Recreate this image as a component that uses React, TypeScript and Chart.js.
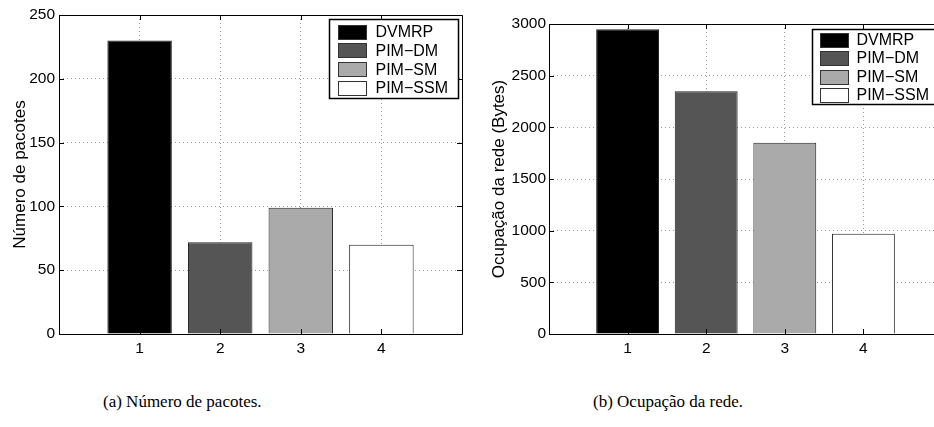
import React, { useEffect, useRef } from "react";
import { Chart, registerables } from "chart.js";

Chart.register(...registerables);

const positions = [1, 2, 3, 4];
const protocols = ["DVMRP", "PIM\u2212DM", "PIM\u2212SM", "PIM\u2212SSM"];
const barColors = ["#000000", "#555555", "#aaaaaa", "#ffffff"];
const packetCounts = [230, 72, 99, 70];
const networkBytes = [2950, 2350, 1850, 970];
const captionA = "(a) Número de pacotes.";
const captionB = "(b) Ocupação da rede.";
const titleA = "Número de pacotes";
const titleB = "Ocupação da rede (Bytes)";

const SANS = "'Liberation Sans', Arial, sans-serif";

const framePlugin = {
  id: "matlabFrame",
  afterDatasetsDraw(chart: any, _args: any, opts: any) {
    const { ctx, chartArea } = chart;
    const { left, right, top, bottom } = chartArea;
    ctx.save();
    ctx.strokeStyle = "#000";
    ctx.lineWidth = 1;
    ctx.beginPath();
    ctx.rect(Math.round(left) + 0.5, Math.round(top) + 0.5, Math.round(right - left), Math.round(bottom - top));
    ctx.stroke();
    const ys = chart.scales.y;
    const xs = chart.scales.x;
    const tl = 5;
    ctx.beginPath();
    ys.ticks.forEach((t: any) => {
      const py = Math.round(ys.getPixelForValue(t.value)) + 0.5;
      ctx.moveTo(left, py);
      ctx.lineTo(left + tl, py);
      ctx.moveTo(right, py);
      ctx.lineTo(right - tl, py);
    });
    xs.ticks.forEach((t: any) => {
      if (t.value < 1 || t.value > 4) return;
      const px = Math.round(xs.getPixelForValue(t.value)) + 0.5;
      ctx.moveTo(px, bottom);
      ctx.lineTo(px, bottom - tl);
      ctx.moveTo(px, top);
      ctx.lineTo(px, top + tl);
    });
    ctx.stroke();

    // legend box
    const bx = Math.round(right - opts.fromRight) + 0.5;
    const by = Math.round(top + opts.fromTop) + 0.5;
    const bw = 129;
    const bh = opts.height;
    ctx.fillStyle = "#fff";
    ctx.fillRect(bx, by, bw, bh);
    ctx.lineWidth = 1.5;
    ctx.strokeRect(bx, by, bw, bh);
    ctx.lineWidth = 1;
    ctx.font = "16px " + SANS;
    ctx.textBaseline = "middle";
    ctx.textAlign = "left";
    protocols.forEach((name, i) => {
      const cy = by + opts.firstRow + i * opts.rowGap;
      const sx = bx + opts.swatchX;
      ctx.fillStyle = barColors[i];
      ctx.fillRect(sx, Math.round(cy - 7), 28, 14);
      ctx.strokeStyle = "#333";
      ctx.strokeRect(sx, Math.round(cy - 7) + 0.5, 28, 14);
      ctx.fillStyle = "#000";
      ctx.fillText(name, bx + opts.textX, cy + 1);
    });
    ctx.restore();
  },
};

function makeConfig(values: number[], yMax: number, yStep: number, title: string, geo: any) {
  return {
    type: "bar" as const,
    data: {
      datasets: [
        {
          data: positions.map((p, i) => ({ x: p, y: values[i] })),
          backgroundColor: barColors,
          borderColor: "#222",
          borderWidth: 1,
          barPercentage: 0.8,
          categoryPercentage: 1,
        },
      ],
    },
    options: {
      responsive: false,
      animation: false,
      devicePixelRatio: 1,
      layout: { padding: { left: 0, top: geo.top, right: geo.right, bottom: 0 } },
      plugins: {
        legend: { display: false },
        tooltip: { enabled: false },
        matlabFrame: geo.legend,
      },
      scales: {
        x: {
          type: "linear",
          offset: false,
          min: 0,
          max: 5,
          ticks: {
            stepSize: 1,
            color: "#000",
            padding: 5,
            font: { family: SANS, size: 15.5 },
            callback: (v: number) => (v >= 1 && v <= 4 ? String(v) : ""),
          },
          grid: { color: "#999", drawTicks: false, lineWidth: 1, offset: false },
          border: { display: false, dash: [1, 3] },
          afterFit: (s: any) => {
            s.height = geo.xHeight;
          },
        },
        y: {
          min: 0,
          max: yMax,
          ticks: {
            stepSize: yStep,
            color: "#000",
            padding: geo.yPad,
            font: { family: SANS, size: 15.5 },
            callback: (v: number) => String(v),
          },
          grid: { color: "#999", drawTicks: false, lineWidth: 1 },
          border: { display: false, dash: [1, 3] },
          title: {
            display: true,
            text: title,
            color: "#000",
            padding: { top: geo.titlePad, bottom: 0 },
            font: { family: SANS, size: 17 },
          },
          afterFit: (s: any) => {
            s.width = geo.yWidth;
          },
        },
      },
    },
    plugins: [framePlugin],
  };
}

function BarChart(props: { values: number[]; yMax: number; yStep: number; title: string; geo: any; left: number; width: number }) {
  const ref = useRef<HTMLCanvasElement | null>(null);
  useEffect(() => {
    if (!ref.current) return;
    const chart = new Chart(ref.current, makeConfig(props.values, props.yMax, props.yStep, props.title, props.geo) as any);
    return () => chart.destroy();
  }, []);
  return (
    <canvas
      ref={ref}
      width={props.width}
      height={365}
      style={{ position: "absolute", left: props.left, top: 0, width: props.width, height: 365 }}
    />
  );
}

export default function App() {
  const geoA = {
    top: 15,
    right: 3,
    xHeight: 31,
    yWidth: 59,
    yPad: 4,
    titlePad: 10,
    legend: { fromRight: 133, fromTop: 4, height: 79, firstRow: 12, rowGap: 18.8, swatchX: 9, textX: 46 },
  };
  const geoB = {
    top: 24,
    right: 3,
    xHeight: 31,
    yWidth: 82,
    yPad: 3,
    titlePad: 22,
    legend: { fromRight: 130, fromTop: 5, height: 75, firstRow: 10, rowGap: 18.5, swatchX: 8, textX: 44 },
  };
  const captionStyle: React.CSSProperties = {
    position: "absolute",
    top: 392,
    fontFamily: "'Liberation Serif', 'DejaVu Serif', serif",
    fontSize: 17,
    lineHeight: "20px",
    whiteSpace: "nowrap",
    color: "#000",
  };
  return (
    <div style={{ position: "absolute", left: 0, top: 0, width: 934, height: 427, overflow: "hidden", background: "#fff" }}>
      <BarChart values={packetCounts} yMax={250} yStep={50} title={titleA} geo={geoA} left={0} width={467} />
      <BarChart values={networkBytes} yMax={3000} yStep={500} title={titleB} geo={geoB} left={467} width={480} />
      <div style={{ ...captionStyle, left: 103 }}>{captionA}</div>
      <div style={{ ...captionStyle, left: 593 }}>{captionB}</div>
    </div>
  );
}
